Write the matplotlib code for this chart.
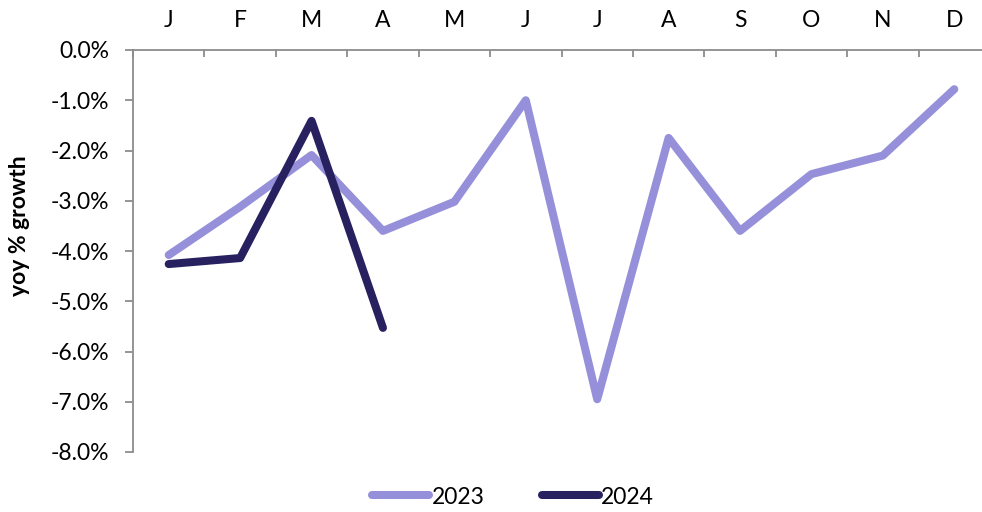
import matplotlib.pyplot as plt
import numpy as np

months = ['J', 'F', 'M', 'A', 'M', 'J', 'J', 'A', 'S', 'O', 'N', 'D']
growth_2023 = [-4.08, -3.12, -2.09, -3.6, -3.02, -1.0, -6.95, -1.75, -3.6, -2.47, -2.1, -0.78]
growth_2024 = [-4.26, -4.14, -1.41, -5.53]

plt.rcParams['font.family'] = ['Lato', 'DejaVu Sans']

fig = plt.figure(figsize=(9.82, 5.12), dpi=100)
ax = fig.add_axes([133 / 982, 1 - 452 / 512, 857 / 982, 402 / 512])

x = np.arange(len(months))
ax.plot(x, growth_2023, color='#9590d9', lw=5.8, solid_capstyle='round',
        solid_joinstyle='round', label='2023')
ax.plot(x[:len(growth_2024)], growth_2024, color='#27215f', lw=5.8,
        solid_capstyle='round', solid_joinstyle='round', label='2024')

ax.set_xlim(-0.5, 11.5)
ax.set_ylim(-8, 0)

# month labels on top, tick marks between months
ax.xaxis.tick_top()
ax.set_xticks(np.arange(-0.5, 12, 1))
ax.set_xticklabels([])
ax.set_xticks(x, minor=True)
ax.set_xticklabels(months, minor=True, fontsize=16.5)
ax.tick_params(axis='x', which='major', direction='in', length=5, color='#8c8c8c', width=1.3)
ax.tick_params(axis='x', which='minor', length=0, pad=13.5)

ax.set_yticks(np.arange(-8, 0.1, 1))
ax.set_yticklabels([f'{v:.1f}%' for v in np.arange(-8, 0.1, 1)], fontsize=16.5)
ax.tick_params(axis='y', direction='out', length=5.8, color='#8c8c8c', width=1.3, pad=11.5)

fig.text(20 / 982, 1 - 226 / 512, 'yoy % growth', rotation=90, ha='center',
         va='center', fontsize=16.5, fontweight='bold')

for side in ['right', 'bottom']:
    ax.spines[side].set_visible(False)
for side in ['left', 'top']:
    ax.spines[side].set_color('#8c8c8c')
    ax.spines[side].set_linewidth(1.3)

fig.legend(loc='center', bbox_to_anchor=(513 / 982, 1 - 497 / 512), ncol=2,
           frameon=False, fontsize=16.5, handlelength=2.5, handletextpad=0.1,
           columnspacing=2.5)

fig.savefig('out.png', dpi=100)
